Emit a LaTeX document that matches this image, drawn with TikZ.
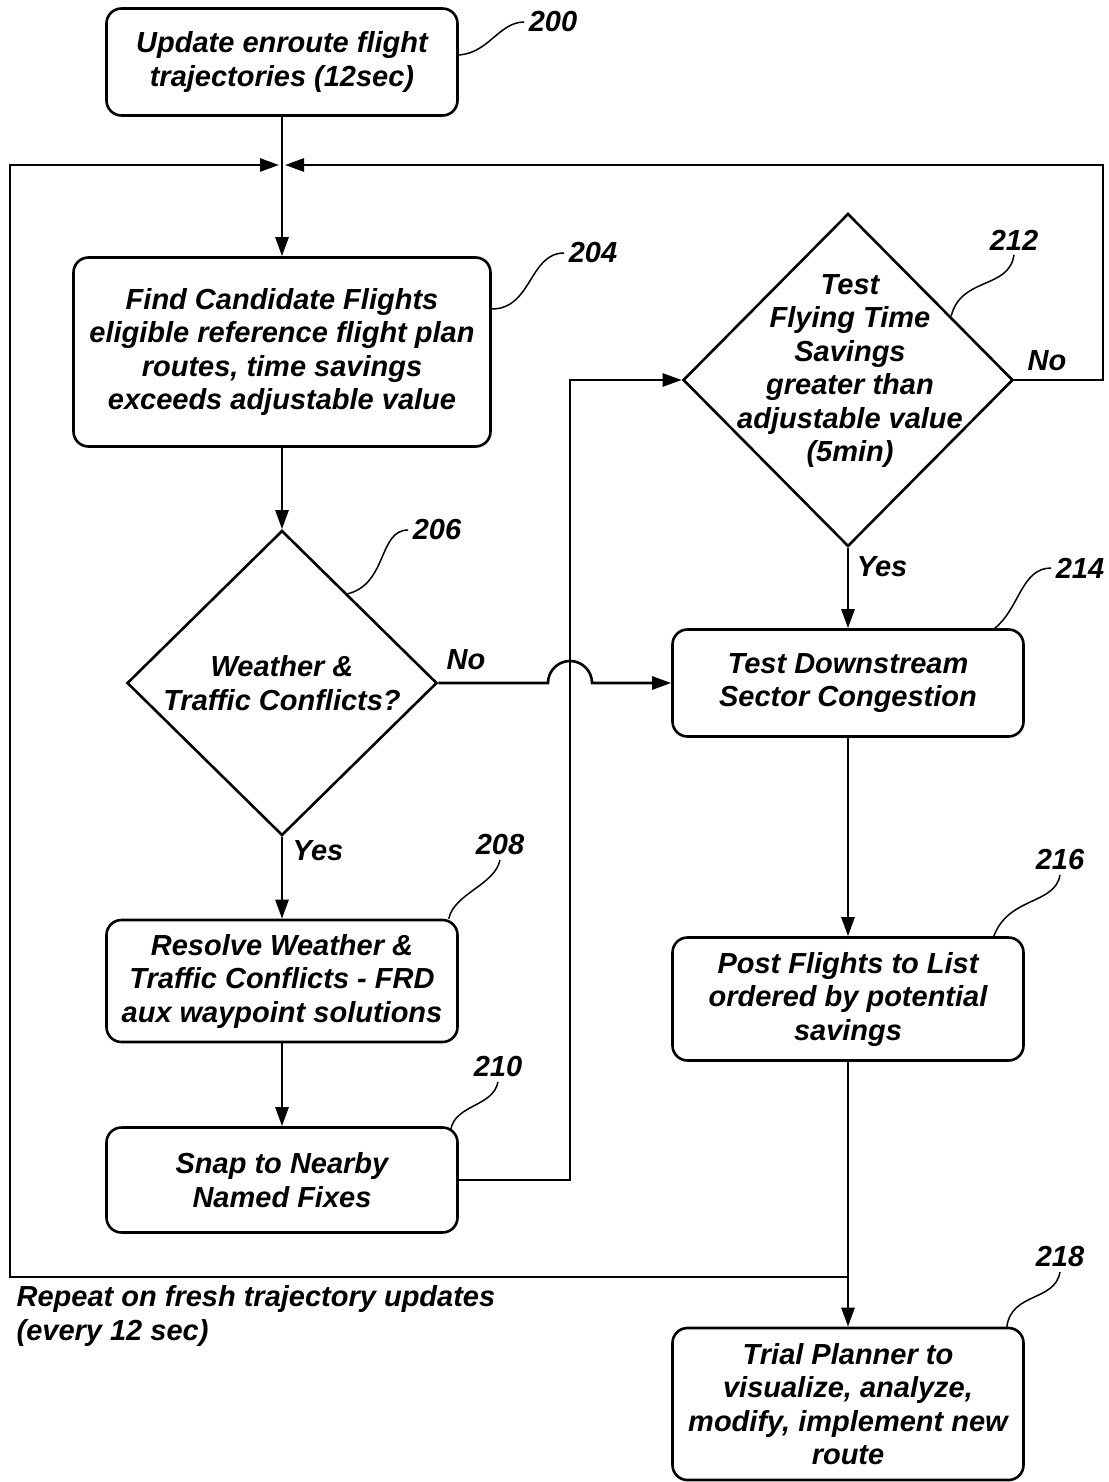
\documentclass[tikz,border=0pt]{standalone}
\usepackage{fontspec}
\setmainfont{Liberation Sans}
\usetikzlibrary{arrows.meta,shapes.geometric,calc}

\begin{document}
\begin{tikzpicture}[x=1pt,y=-1pt,>={Triangle[length=19pt,width=13pt]},line width=2.6pt,
  every node/.style={font=\fontsize{29}{33.5}\selectfont\bfseries\itshape,align=center},
  flow box/.style={draw,rounded corners=15pt,minimum width=351pt,inner sep=0pt},
  test node/.style={draw,diamond,inner sep=0pt},
  ref num/.style={font=\fontsize{29}{30}\selectfont\bfseries\itshape},
  leader/.style={line width=1.5pt}]
  \useasboundingbox (0,0) rectangle (1108,1482);

  % left column
  \node[flow box, minimum height=107pt] (b200) at (282,62) {Update enroute flight\\trajectories (12sec)};
  \node[flow box, minimum width=417pt, minimum height=189pt] (b204) at (282,352) {Find Candidate Flights\\eligible reference flight plan\\routes, time savings\\exceeds adjustable value};
  \node[test node, minimum width=310pt, minimum height=305pt] (d206) at (282,683) {};
  \node (t206) at (d206) {Weather \&\\Traffic Conflicts?};
  \node[flow box, minimum height=122pt] (b208) at (282,981) {Resolve Weather \&\\Traffic Conflicts - FRD\\aux waypoint solutions};
  \node[flow box, minimum height=105pt] (b210) at (282,1180) {Snap to Nearby\\Named Fixes};

  % right column
  \node[test node, minimum width=330pt, minimum height=333pt] (d212) at (848,380) {};
  \node (t212) at (850,371) {Test\\Flying Time\\Savings\\greater than\\adjustable value\\(5min)};
  \node[flow box, minimum height=107pt] (b214) at (848,683) {Test Downstream\\Sector Congestion};
  \node[flow box, minimum height=123pt] (b216) at (848,999) {Post Flights to List\\ordered by potential\\savings};
  \node[flow box, minimum height=152pt] (b218) at (848,1404) {Trial Planner to\\visualize, analyze,\\modify, implement new\\route};

  % reference numbers
  \node[ref num] (n200) at (553,22) {200};
  \node[ref num] (n204) at (593,253) {204};
  \node[ref num] (n206) at (437,530) {206};
  \node[ref num] (n208) at (500,845) {208};
  \node[ref num] (n210) at (498,1067) {210};
  \node[ref num] (n212) at (1014,240) {212};
  \node[ref num] (n214) at (1080,568) {214};
  \node[ref num] (n216) at (1060,860) {216};
  \node[ref num] (n218) at (1060,1257) {218};

  % branch labels
  \node (no206) at (466,660) {No};
  \node (yes206) at (318,851) {Yes};
  \node (no212) at (1047,361) {No};
  \node (yes212) at (882,567) {Yes};
  \node[anchor=west,align=left] (repeat) at (12,1316) {Repeat on fresh trajectory updates\\(every 12 sec)};

  \coordinate (join) at (282,165);
  \coordinate (rturn) at (1103,165);
  \coordinate (split) at (848,1277);
  \coordinate (lturn) at (10,1277);
  \coordinate (bend) at (570,380);
  \coordinate (hop) at (570,683);

  % flow
  \draw (b200) -- (join);
  \draw[->] (join) -- (b204);
  \draw[->] (b204) -- (d206);
  \draw[->] (d206) -- (b208);
  \draw[->] (b208) -- (b210);
  \draw[->] (b210.east) -| (bend) -- (d212.west);
  \draw[->] (d206.east) -- ($(hop)+(-22,0)$) arc[start angle=180,end angle=360,radius=22] -- (b214.west);
  \draw[->] (d212) -- (b214);
  \draw[->] (b214) -- (b216);
  \draw[->] (b216) -- (b218);
  \draw[->,shorten >=3pt] (d212.east) -| (rturn) -- (join);
  \draw[->,shorten >=3pt] (split) -- (lturn) |- (join);

  % leaders
  \draw[leader] ($(b200.east)+(0,-7)$) .. controls +(30,-2) and +(-25,0) .. (n200.west);
  \draw[leader] ($(b204.east)+(0,-43)$) .. controls +(40,0) and +(-35,0) .. (n204.west);
  \draw[leader] ($(d206.north)!0.42!(d206.east)$) .. controls +(40,-10) and +(-30,0) .. (n206.west);
  \draw[leader] ($(b208.north east)+(-10,0)$) .. controls +(5,-25) and +(-5,25) .. (n208.south);
  \draw[leader] ($(b210.north east)+(-8,3)$) .. controls +(5,-25) and +(-5,25) .. (n210.south);
  \draw[leader] ($(d212.north)!0.62!(d212.east)$) .. controls +(10,-40) and +(-5,35) .. (n212.south);
  \draw[leader] ($(b214.north east)+(-30,0)$) .. controls +(25,-20) and +(-30,0) .. (n214.west);
  \draw[leader] ($(b216.north east)+(-31,0)$) .. controls +(15,-40) and +(-5,30) .. (n216.south);
  \draw[leader] ($(b218.north east)+(-18,0)$) .. controls +(5,-35) and +(-5,30) .. (n218.south);
\end{tikzpicture}
\end{document}
